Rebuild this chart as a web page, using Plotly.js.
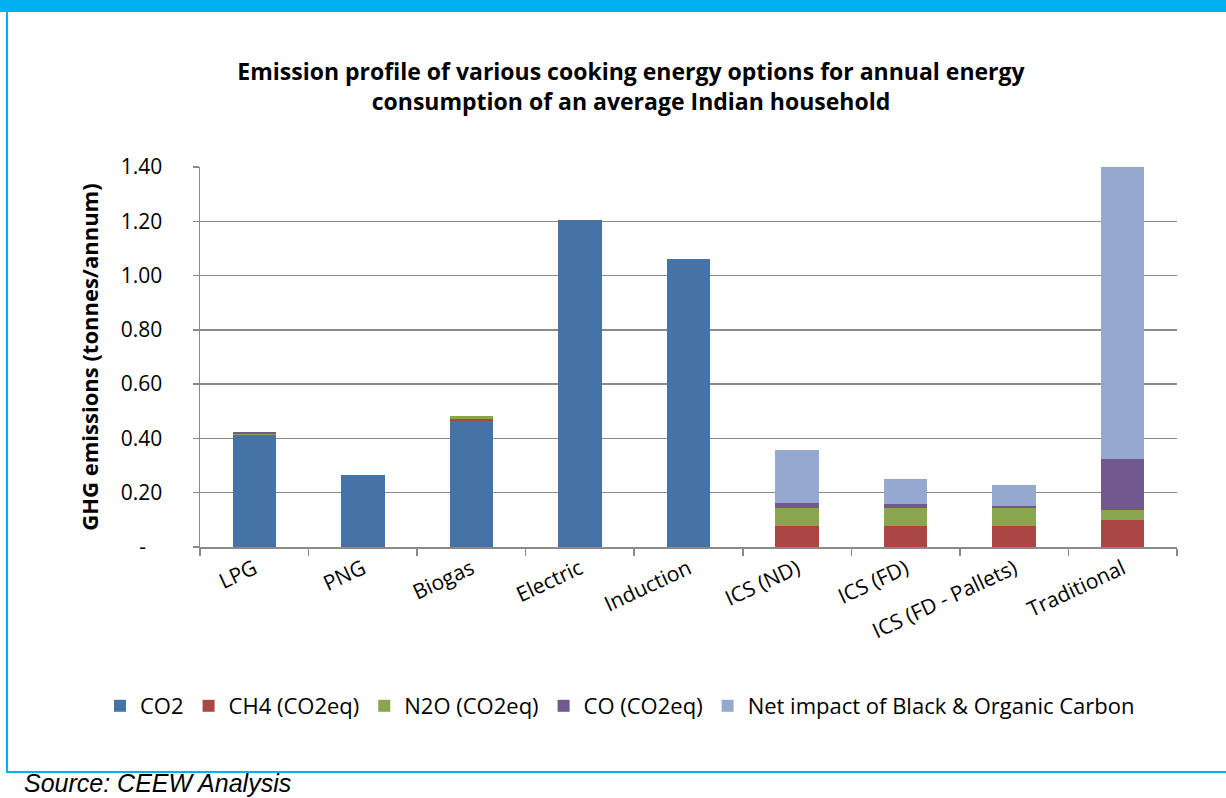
<!DOCTYPE html>
<html>
<head>
<meta charset="utf-8">
<script src="https://cdn.plot.ly/plotly-3.0.1.min.js"></script>
<style>
  html, body { margin: 0; padding: 0; background: #ffffff; }
  #wrap { position: relative; width: 1226px; height: 798px; overflow: hidden; background: #fff; }
  #chart { position: absolute; left: 0; top: 0; width: 1226px; height: 798px; }
  .topbar { position: absolute; left: 0; top: 0; width: 1226px; height: 12px; background: #00B0F0; }
  .leftbar { position: absolute; left: 6px; top: 0; width: 2px; height: 772px; background: #00B0F0; }
  .bottombar { position: absolute; left: 6px; top: 771px; width: 1220px; height: 2px; background: #00B0F0; }
</style>
</head>
<body>
<div id="wrap">
  <div id="chart"></div>
  <div class="topbar"></div>
  <div class="leftbar"></div>
  <div class="bottombar"></div>
</div>
<script>
// ---- data ----
const categories = ["LPG", "PNG", "Biogas", "Electric", "Induction", "ICS (ND)", "ICS (FD)", "ICS (FD - Pallets)", "Traditional"];
const co2 = [0.411, 0.264, 0.466, 1.205, 1.061, 0, 0, 0, 0];
const ch4 = [0.002, 0.001, 0.006, 0, 0, 0.078, 0.078, 0.078, 0.100];
const n2o = [0.005, 0.001, 0.010, 0, 0, 0.066, 0.066, 0.066, 0.035];
const co  = [0.004, 0, 0, 0, 0, 0.018, 0.014, 0.006, 0.189];
const bc  = [0, 0, 0, 0, 0, 0.197, 0.091, 0.080, 1.076];
const seriesNames = ["CO2", "CH4 (CO2eq)", "N2O (CO2eq)", "CO (CO2eq)", "Net impact of Black & Organic Carbon"];
const yTickVals = [0, 0.2, 0.4, 0.6, 0.8, 1.0, 1.2, 1.4];
const yTickText = ["-\u00a0\u00a0\u00a0", "0.20", "0.40", "0.60", "0.80", "1.00", "1.20", "1.40"];

const colors = ["#4572A7", "#AA4643", "#89A54E", "#71588F", "#95A9D0"];
const seriesVals = [co2, ch4, n2o, co, bc];

const FONT = "Open Sans, Noto Sans, sans-serif";

const traces = seriesVals.map((vals, i) => ({
  type: "bar",
  name: seriesNames[i],
  x: categories,
  y: vals,
  marker: { color: colors[i], line: { width: 0 } },
  hoverinfo: "skip"
}));

const W = 1226, H = 798;
const L = 200, R = 1177, T = 167, B = 547;

const layout = {
  width: W, height: H,
  margin: { l: L, r: W - R, t: T, b: H - B, pad: 0 },
  paper_bgcolor: "rgba(0,0,0,0)",
  plot_bgcolor: "rgba(0,0,0,0)",
  barmode: "stack",
  bargap: 0.6,
  showlegend: true,
  font: { family: FONT, color: "#000000" },
  title: {
    text: "<b>Emission profile of various cooking energy options for annual energy<br>consumption of an average Indian household</b>",
    font: { family: FONT, size: 23, color: "#000" },
    x: (631 - L) / (R - L), xref: "paper", xanchor: "center",
    y: 1 - 80 / H, yref: "container", yanchor: "middle"
  },
  xaxis: {
    type: "category",
    tickson: "boundaries",
    ticks: "outside", ticklen: 7, tickwidth: 1.5, tickcolor: "#8a8a8a",
    showline: true, linecolor: "#8a8a8a", linewidth: 1.5,
    showgrid: false,
    tickangle: -25,
    tickfont: { family: FONT, size: 21, color: "#000" },
    fixedrange: true
  },
  yaxis: {
    range: [0, 1.4],
    tickvals: yTickVals,
    ticktext: yTickText,
    ticks: "outside", ticklen: 6, tickwidth: 1.5, tickcolor: "#8a8a8a",
    ticklabelstandoff: 26,
    showline: true, linecolor: "#8a8a8a", linewidth: 1.5,
    showgrid: true, gridcolor: "#8a8a8a", gridwidth: 1.5,
    zeroline: false,
    tickfont: { family: FONT, size: 21, color: "#000" },
    title: {
      text: "<b>GHG emissions (tonnes/annum)</b>",
      font: { family: FONT, size: 22, color: "#000" },
      standoff: 16
    },
    fixedrange: true
  },
  legend: {
    orientation: "h",
    traceorder: "normal",
    xref: "paper", yref: "paper",
    x: (100 - L) / (R - L), xanchor: "left",
    y: (B - 706) / (B - T), yanchor: "middle",
    font: { family: FONT, size: 22, color: "#000" },
    itemwidth: 30,
    bgcolor: "rgba(0,0,0,0)"
  },
  annotations: [{
    text: "<i>Source: CEEW Analysis</i>",
    xref: "paper", yref: "paper",
    x: (22 - L) / (R - L), xanchor: "left",
    y: (B - 783) / (B - T), yanchor: "middle",
    showarrow: false,
    font: { family: "Liberation Sans, Arial, sans-serif", size: 25, color: "#000" }
  }]
};

Plotly.newPlot("chart", traces, layout, { displayModeBar: false, staticPlot: true });
</script>
</body>
</html>
